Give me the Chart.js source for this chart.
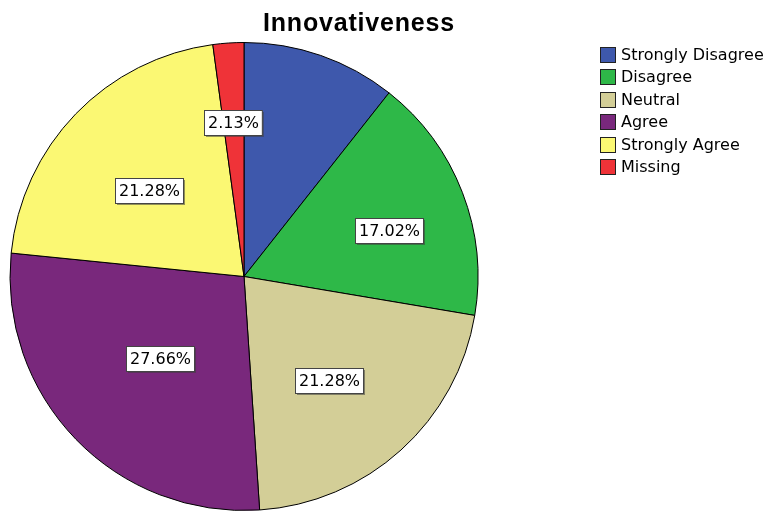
<!DOCTYPE html>
<html>
<head>
<meta charset="utf-8">
<script src="https://cdn.jsdelivr.net/npm/chart.js@4/dist/chart.umd.min.js"></script>
<style>
html,body{margin:0;padding:0;background:#fff;}
#wrap{position:relative;width:770px;height:511px;}
</style>
</head>
<body>
<div id="wrap"><canvas id="c" width="770" height="511"></canvas></div>
<script>
const chartTitle = "Innovativeness";
const categories = ["Strongly Disagree", "Disagree", "Neutral", "Agree", "Strongly Agree", "Missing"];
const counts = [5, 8, 10, 13, 10, 1];
const percentLabels = [null, "17.02%", "21.28%", "27.66%", "21.28%", "2.13%"];
const sliceColors = ["#3E58AC", "#2EB848", "#D3CE97", "#79287C", "#FBF873", "#EF3338"];
const labelRadiusFrac = [0.6, 0.651, 0.573, 0.504, 0.547, 0.659];
const labelAngleFrac = [0.5, 0.558, 0.539, 0.497, 0.473, 0.47];

const overlay = {
  id: 'overlay',
  afterDraw(chart) {
    const ctx = chart.ctx;
    ctx.save();
    // title
    ctx.font = 'bold 25px "Liberation Sans", Arial, sans-serif';
    const tw = ctx.measureText(chartTitle).width;
    const target = 192;
    ctx.letterSpacing = ((target - tw) / chartTitle.length) + 'px';
    ctx.fillStyle = '#000';
    ctx.textBaseline = 'alphabetic';
    ctx.textAlign = 'left';
    ctx.fillText(chartTitle, 263, 31);
    ctx.letterSpacing = '0px';

    // slice labels
    const meta = chart.getDatasetMeta(0);
    ctx.font = '16px "DejaVu Sans", sans-serif';
    meta.data.forEach((arc, i) => {
      const txt = percentLabels[i];
      if (!txt) return;
      const p = arc.getProps(['x','y','startAngle','endAngle','outerRadius'], true);
      const ang = p.startAngle + (p.endAngle - p.startAngle) * labelAngleFrac[i];
      const r = p.outerRadius * labelRadiusFrac[i];
      const cx = p.x + Math.cos(ang) * r;
      const cy = p.y + Math.sin(ang) * r;
      const w = ctx.measureText(txt).width + 7;
      const h = 25;
      const x0 = Math.round(cx - w/2) + 0.5, y0 = Math.round(cy - h/2) + 0.5;
      ctx.fillStyle = 'rgba(60,60,60,0.55)';
      ctx.fillRect(x0 + 1.5, y0 + 1.5, w, h);
      ctx.fillStyle = '#fff';
      ctx.fillRect(x0, y0, w, h);
      ctx.strokeStyle = '#444';
      ctx.lineWidth = 1;
      ctx.strokeRect(x0, y0, w, h);
      ctx.fillStyle = '#000';
      ctx.textAlign = 'center';
      ctx.textBaseline = 'middle';
      ctx.fillText(txt, x0 + w/2, y0 + h/2 + 1);
    });

    // legend
    ctx.textAlign = 'left';
    ctx.textBaseline = 'middle';
    categories.forEach((c, i) => {
      const yc = Math.round(54.5 + i * 22.5);
      ctx.fillStyle = sliceColors[i];
      ctx.fillRect(600.5, yc - 7.5, 15, 15);
      ctx.strokeStyle = '#222';
      ctx.lineWidth = 1;
      ctx.strokeRect(600.5, yc - 7.5, 15, 15);
      ctx.fillStyle = '#000';
      ctx.fillText(c, 621, yc + 1);
    });
    ctx.restore();
  }
};

new Chart(document.getElementById('c'), {
  type: 'pie',
  data: {
    labels: categories,
    datasets: [{
      data: counts,
      backgroundColor: sliceColors,
      borderColor: '#000',
      borderWidth: 1,
      hoverOffset: 0
    }]
  },
  options: {
    responsive: false,
    animation: false,
    layout: { padding: { left: 9, top: 42, right: 291, bottom: 0 } },
    plugins: {
      legend: { display: false },
      title: { display: false },
      tooltip: { enabled: false }
    }
  },
  plugins: [overlay]
});
</script>
</body>
</html>
